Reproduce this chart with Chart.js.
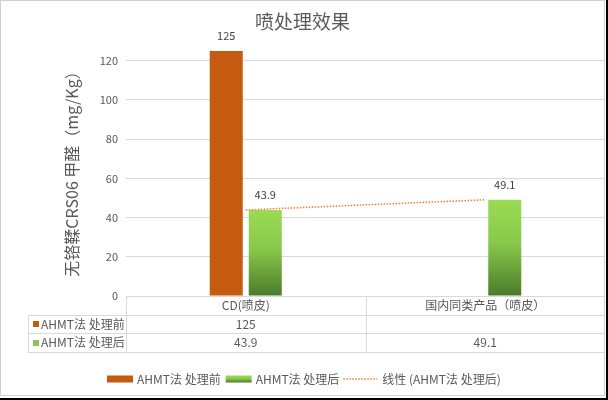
<!DOCTYPE html>
<html>
<head>
<meta charset="utf-8">
<script src="https://cdn.jsdelivr.net/npm/chart.js@4"></script>
<style>
  html, body { margin: 0; padding: 0; background: #fff; }
  canvas { display: block; }
</style>
</head>
<body>
<canvas id="canvas" width="608" height="400"></canvas>
<script>
const chartTitle = '喷处理效果';
const yTitle = '无铬鞣CRS06 甲醛（mg/Kg）';
const categories = ['CD(喷皮)', '国内同类产品（喷皮）'];
const seriesNames = ['AHMT法 处理前', 'AHMT法 处理后', '线性 (AHMT法 处理后)'];
const beforeValues = [125, null];
const afterValues = [43.9, 49.1];
const trendValues = [43.9, 49.1];
const yMin = 0;
const yMax = 120;
const yStep = 20;

const colors = {
    orange: '#C55A11',
    trend: '#ED7D31',
    greenTop: '#9ADA54',
    greenMid: '#88C94A',
    greenBottom: '#4B7A2A',
    greenSolid: '#8CC652',
    text: '#595959',
    label: '#404040',
    grid: '#d9d9d9',
};
const fontFamily = "'Noto Sans CJK SC', 'Noto Sans', sans-serif";
Chart.defaults.font.family = fontFamily;

function greenFill(ctx, top, bottom) {
    const g = ctx.createLinearGradient(0, top, 0, bottom);
    g.addColorStop(0, colors.greenTop);
    g.addColorStop(0.45, colors.greenMid);
    g.addColorStop(1, colors.greenBottom);
    return g;
}

// frame, data labels, data table, legend and y title
const extras = {
    id: 'extras',
    beforeDraw(chart) {
        const ctx = chart.ctx;
        ctx.save();
        ctx.fillStyle = '#000';
        ctx.fillRect(0, 0, chart.width, chart.height);
        ctx.fillStyle = '#fff';
        ctx.fillRect(0, 0, 606, 398);
        ctx.strokeStyle = '#d0d0d0';
        ctx.lineWidth = 1;
        ctx.strokeRect(0.5, 0.5, 604, 395);
        ctx.restore();
    },
    afterDatasetsDraw(chart) {
        const ctx = chart.ctx;
        ctx.save();
        ctx.font = '11px ' + fontFamily;
        ctx.fillStyle = colors.label;
        ctx.textAlign = 'center';
        ctx.textBaseline = 'middle';
        chart.data.datasets.forEach((ds, i) => {
            if (ds.type === 'line') return;
            chart.getDatasetMeta(i).data.forEach((el, j) => {
                const v = ds.data[j];
                if (v === null) return;
                ctx.fillText(String(v), el.x, el.y - 15);
            });
        });
        ctx.restore();
    },
    afterDraw(chart) {
        const ctx = chart.ctx;
        const area = chart.chartArea;
        const x = chart.scales.x;
        const rowH = 18.5;
        const top = area.bottom;
        const labelLeft = 28;
        const colEdges = [area.left];
        for (let i = 0; i < categories.length - 1; i++) {
            colEdges.push((x.getPixelForValue(i) + x.getPixelForValue(i + 1)) / 2);
        }

        ctx.save();
        // table lines
        ctx.strokeStyle = colors.grid;
        ctx.lineWidth = 1;
        ctx.beginPath();
        ctx.moveTo(area.left, Math.round(top) + 0.5);
        ctx.lineTo(area.right, Math.round(top) + 0.5);
        for (let r = 1; r <= 3; r++) {
            const y = Math.round(top + r * rowH) + 0.5;
            ctx.moveTo(labelLeft, y);
            ctx.lineTo(area.right, y);
        }
        ctx.moveTo(labelLeft + 0.5, Math.round(top + rowH));
        ctx.lineTo(labelLeft + 0.5, Math.round(top + 3 * rowH) + 1);
        colEdges.forEach(cx => {
            ctx.moveTo(Math.round(cx) + 0.5, Math.round(top));
            ctx.lineTo(Math.round(cx) + 0.5, Math.round(top + 3 * rowH) + 1);
        });
        ctx.stroke();

        // table text
        ctx.font = '12px ' + fontFamily;
        ctx.fillStyle = colors.text;
        ctx.textBaseline = 'middle';
        ctx.textAlign = 'center';
        categories.forEach((c, i) => {
            ctx.fillText(c, x.getPixelForValue(i), top + rowH / 2 + 0.5);
        });
        const rows = [beforeValues, afterValues];
        rows.forEach((vals, r) => {
            const cy = top + (r + 1.5) * rowH + 0.5;
            vals.forEach((v, i) => {
                if (v === null) return;
                ctx.fillText(String(v), x.getPixelForValue(i), cy);
            });
            ctx.fillStyle = r === 0 ? colors.orange : colors.greenSolid;
            ctx.fillRect(33, Math.round(cy) - 3, 6, 6);
            ctx.fillStyle = colors.text;
            ctx.textAlign = 'left';
            ctx.fillText(seriesNames[r], 41, cy);
            ctx.textAlign = 'center';
        });

        // legend
        const ly = 379;
        const boxW = 26;
        const lineW = 34;
        const widths = seriesNames.map(n => ctx.measureText(n).width);
        const total = boxW + 4 + widths[0] + 5 + boxW + 4 + widths[1] + 4 + lineW + 5 + widths[2];
        let lx = Math.round(304 - total / 2);
        ctx.textAlign = 'left';
        ctx.fillStyle = colors.orange;
        ctx.fillRect(lx, ly - 3.5, boxW, 7);
        lx += boxW + 4;
        ctx.fillStyle = colors.text;
        ctx.fillText(seriesNames[0], lx, ly);
        lx += widths[0] + 5;
        ctx.fillStyle = greenFill(ctx, ly - 3.5, ly + 3.5);
        ctx.fillRect(lx, ly - 3.5, boxW, 7);
        lx += boxW + 4;
        ctx.fillStyle = colors.text;
        ctx.fillText(seriesNames[1], lx, ly);
        lx += widths[1] + 4;
        ctx.strokeStyle = colors.trend;
        ctx.lineWidth = 1.5;
        ctx.setLineDash([1.5, 1.5]);
        ctx.beginPath();
        ctx.moveTo(lx, ly);
        ctx.lineTo(lx + lineW, ly);
        ctx.stroke();
        ctx.setLineDash([]);
        lx += lineW + 5;
        ctx.fillText(seriesNames[2], lx, ly);

        // y axis title
        ctx.translate(72, 170);
        ctx.rotate(-Math.PI / 2);
        ctx.font = '16px ' + fontFamily;
        ctx.textAlign = 'center';
        ctx.fillText(yTitle, 0, 0);
        ctx.restore();
    }
};

const ctx = document.getElementById('canvas');
const chart = new Chart(ctx, {
    data: {
        labels: categories,
        datasets: [
            {
                type: 'line',
                label: seriesNames[2],
                data: trendValues,
                borderColor: colors.trend,
                borderWidth: 1.5,
                borderDash: [1.5, 1.5],
                pointRadius: 0,
                fill: false,
                order: 0,
            },
            {
                type: 'bar',
                label: seriesNames[0],
                data: beforeValues,
                backgroundColor: colors.orange,
                categoryPercentage: 0.326,
                barPercentage: 0.846,
                clip: false,
                order: 1,
            },
            {
                type: 'bar',
                label: seriesNames[1],
                data: afterValues,
                backgroundColor: function (context) {
                    const c = context.chart;
                    if (!c.chartArea || context.raw === undefined || context.raw === null) {
                        return colors.greenSolid;
                    }
                    const topPx = c.scales.y.getPixelForValue(context.raw);
                    return greenFill(c.ctx, topPx, c.chartArea.bottom);
                },
                categoryPercentage: 0.326,
                barPercentage: 0.846,
                clip: false,
                order: 1,
            },
        ],
    },
    options: {
        responsive: false,
        animation: false,
        devicePixelRatio: 1,
        layout: {
            padding: { left: 0, right: 3, top: 0, bottom: 104 },
        },
        plugins: {
            legend: { display: false },
            tooltip: { enabled: false },
            title: {
                display: true,
                text: chartTitle,
                color: colors.text,
                font: { size: 19, weight: 'normal' },
                padding: { top: 10, bottom: 28 },
            },
        },
        scales: {
            x: {
                type: 'category',
                display: false,
                offset: true,
            },
            y: {
                min: yMin,
                max: yMax,
                ticks: {
                    stepSize: yStep,
                    color: colors.text,
                    font: { size: 11 },
                    padding: 8,
                },
                grid: {
                    color: colors.grid,
                    drawTicks: false,
                },
                border: { display: false },
                afterFit(scale) {
                    scale.width = 126;
                },
            },
        },
    },
    plugins: [extras],
});
</script>
</body>
</html>
